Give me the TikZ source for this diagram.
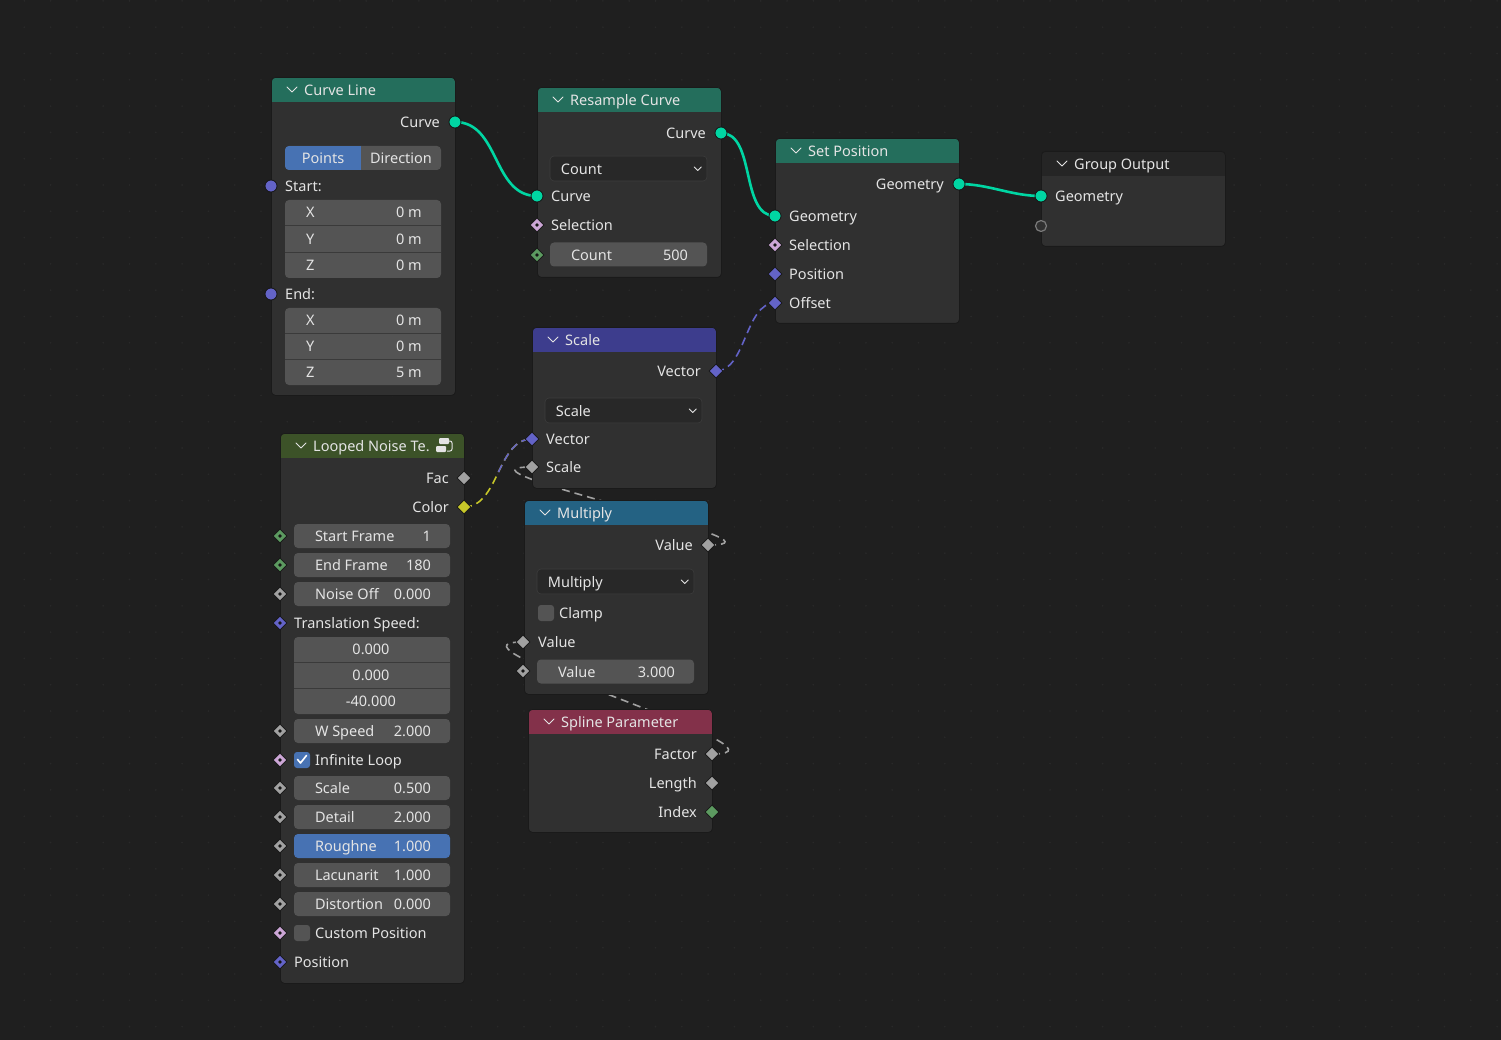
\documentclass[tikz,border=0pt]{standalone}
\usepackage{fontspec}
\setmainfont{Noto Sans}
\usetikzlibrary{positioning,shapes.geometric,calc}

\definecolor{bgc}{HTML}{1F1F1F}
\definecolor{dotc}{HTML}{292929}
\definecolor{bodyc}{HTML}{303030}
\definecolor{edgec}{HTML}{1A1A1A}
\definecolor{fieldc}{HTML}{545454}
\definecolor{dropc}{HTML}{282828}
\definecolor{dropedge}{HTML}{3C3C3C}
\definecolor{sepc}{HTML}{3A3A3A}
\definecolor{txt}{HTML}{E4E4E4}
\definecolor{selc}{HTML}{4772B3}
\definecolor{sockedge}{HTML}{151515}
\definecolor{geo}{HTML}{00D6A3}
\definecolor{vecc}{HTML}{6363C7}
\definecolor{boolc}{HTML}{CCA6D6}
\definecolor{intc}{HTML}{5C9A60}
\definecolor{floatc}{HTML}{A1A1A1}
\definecolor{colc}{HTML}{C7C729}
\definecolor{emptyc}{HTML}{7A7A7A}
\definecolor{hdrgeo}{HTML}{246E5C}
\definecolor{hdrvec}{HTML}{3D3D8D}
\definecolor{hdrgrp}{HTML}{3C5228}
\definecolor{hdrmath}{HTML}{246283}
\definecolor{hdrin}{HTML}{83314A}
\definecolor{hdrout}{HTML}{252525}

\pgfdeclarelayer{bg}
\pgfsetlayers{bg,main}

\tikzset{
  frame/.style={draw=edgec, line width=0.8pt, fill=bodyc, rounded corners=4pt,
    anchor=north west, inner sep=0pt},
  title/.style={anchor=west, inner sep=0pt, text=txt,
    font=\fontsize{14.5}{17}\selectfont, text height=11.5pt, text depth=0pt},
  lbl/.style={title},
  chev/.style={draw=txt, line width=1pt, line cap=round, line join=round},
  field/.style={fill=fieldc, rounded corners=4pt, minimum height=24pt, inner sep=0pt},
  drop/.style={fill=dropc, draw=dropedge, line width=0.6pt, rounded corners=4pt,
    minimum height=25pt, minimum width=157pt, inner sep=0pt},
  sep/.style={draw=sepc, line width=1.2pt},
  sock/.style={circle, fill=#1, draw=sockedge, line width=0.8pt, minimum size=12pt, inner sep=0pt},
  dsock/.style={diamond, fill=#1, draw=sockedge, line width=0.8pt, minimum size=14pt, inner sep=0pt},
  ddsock/.style={dsock=#1, path picture={\fill[sockedge] (path picture bounding box.center) circle (1.8pt);}},
  box/.style={fill=fieldc, rounded corners=3pt, minimum size=16pt, inner sep=0pt},
  geolink/.style={draw=geo, line width=2.6pt},
  flink/.style={draw=#1, line width=1.6pt, dash pattern=on 8pt off 5pt},
}

% node frame: name, x, y, width, height, header colour, title
\newcommand{\bnode}[7]{%
  \node[frame, minimum width=#4pt, minimum height=#5pt,
    path picture={\fill[#6, sharp corners] (path picture bounding box.north west)
      rectangle ([yshift=-25pt]path picture bounding box.north east);}] (#1) at (#2,#3) {};
  \draw[chev] ([xshift=16pt,yshift=-10pt]#1.north west) -- ++(5pt,-5pt) -- ++(5pt,5pt);
  \node[title] (#1-t) at ([xshift=33pt,yshift=-12.5pt]#1.north west) {#7};
}
% value field: name, x centre, y, width, colour, label, value
\newcommand{\bfield}[7]{%
  \node[field, fill=#5, minimum width=#4pt] (#1) at (#2,#3) {};
  \node[lbl] (#1-l) at ([xshift=21pt]#1.west) {#6};
  \node[lbl, anchor=east] (#1-v) at ([xshift=-19pt]#1.east) {#7};
}
% drop-down menu: name, x centre, y, text
\newcommand{\bdrop}[4]{%
  \node[drop] (#1) at (#2,#3) {};
  \node[lbl] (#1-l) at ([xshift=11pt]#1.west) {#4};
  \draw[chev, line width=0.9pt] ([xshift=-13pt,yshift=1.5pt]#1.east) -- ++(3.5pt,-3.5pt) -- ++(3.5pt,3.5pt);
}

\begin{document}
\begin{tikzpicture}[x=1pt,y=-1pt]
\useasboundingbox (0,0) rectangle (1501,1040);

% Curve Line
\bnode{cl}{271}{77}{184}{318}{hdrgeo}{Curve Line}
\node[lbl, anchor=east] (cl-ol) at (440,122) {Curve};
\node[sock=geo] (cl-o) at (455,122) {};
\node[field, minimum width=156pt,
  path picture={\fill[selc, sharp corners] (path picture bounding box.north west)
    rectangle ([xshift=76pt]path picture bounding box.south west);}] (cl-mode) at (363,158) {};
\node[lbl, anchor=center] (cl-pts) at (323,158) {Points};
\node[lbl, anchor=center] (cl-dir) at (401,158) {Direction};
\node[lbl] (cl-sl) at (285,186) {Start:};
\node[sock=vecc] (cl-s) at (271,186) {};
\node[field, minimum width=156pt, minimum height=78pt] (cl-sv) at (363,239) {};
\draw[sep] (285,225.5) -- (441,225.5);
\draw[sep] (285,252.5) -- (441,252.5);
\foreach \c/\yy/\v in {X/212/0 m, Y/239/0 m, Z/265/0 m} {
  \node[lbl] (cl-s\c) at (306,\yy) {\c};
  \node[lbl, anchor=east] (cl-s\c-v) at (422,\yy) {\v};
}
\node[lbl] (cl-el) at (285,294) {End:};
\node[sock=vecc] (cl-e) at (271,294) {};
\node[field, minimum width=156pt, minimum height=77pt] (cl-ev) at (363,346.5) {};
\draw[sep] (285,333.5) -- (441,333.5);
\draw[sep] (285,359.5) -- (441,359.5);
\foreach \c/\yy/\v in {X/320/0 m, Y/346/0 m, Z/372/5 m} {
  \node[lbl] (cl-e\c) at (306,\yy) {\c};
  \node[lbl, anchor=east] (cl-e\c-v) at (422,\yy) {\v};
}

% Resample Curve
\bnode{rs}{537}{87}{184}{190}{hdrgeo}{Resample Curve}
\node[lbl, anchor=east] (rs-ol) at (706,133) {Curve};
\node[sock=geo] (rs-o) at (721,133) {};
\bdrop{rs-mode}{628.5}{168.5}{Count}
\node[lbl] (rs-cil) at (551,196) {Curve};
\node[sock=geo] (rs-ci) at (537,196) {};
\node[lbl] (rs-sel) at (551,225) {Selection};
\node[ddsock=boolc] (rs-s) at (537,225) {};
\bfield{rs-cnt}{628.5}{254.5}{157}{fieldc}{Count}{500}
\node[ddsock=intc] (rs-n) at (537,255) {};

% Set Position
\bnode{sp}{775}{138}{184}{185}{hdrgeo}{Set Position}
\node[lbl, anchor=east] (sp-ol) at (944,184) {Geometry};
\node[sock=geo] (sp-o) at (959,184) {};
\node[lbl] (sp-gl) at (789,216) {Geometry};
\node[sock=geo] (sp-g) at (775,216) {};
\node[lbl] (sp-sl) at (789,245) {Selection};
\node[ddsock=boolc] (sp-s) at (775,245) {};
\node[lbl] (sp-pl) at (789,274) {Position};
\node[dsock=vecc] (sp-p) at (775,274) {};
\node[lbl] (sp-fl) at (789,303) {Offset};
\node[dsock=vecc] (sp-f) at (775,303) {};

% Group Output
\bnode{go}{1041}{151}{184}{95}{hdrout}{Group Output}
\node[lbl] (go-gl) at (1055,196) {Geometry};
\node[sock=geo] (go-g) at (1041,196) {};
\node[sock=bodyc, draw=emptyc, line width=1.2pt, minimum size=11pt] (go-e) at (1041,226) {};

% Scale
\bnode{sc}{532}{327}{184}{161}{hdrvec}{Scale}
\node[lbl, anchor=east] (sc-ol) at (701,371) {Vector};
\node[dsock=vecc] (sc-o) at (716,371) {};
\bdrop{sc-mode}{623.5}{410.5}{Scale}
\node[lbl] (sc-vl) at (546,439) {Vector};
\node[dsock=vecc] (sc-v) at (532,439) {};
\node[lbl] (sc-sl) at (546,467) {Scale};
\node[dsock=floatc] (sc-s) at (532,467) {};

% Looped Noise Texture (group)
\bnode{ln}{280}{433}{184}{550}{hdrgrp}{Looped Noise Te.}
\fill[txt, rounded corners=1pt] (439,438) rectangle (449,444);
\fill[txt, rounded corners=1pt] (436,446) rectangle (446,452);
\draw[txt, line width=1pt, rounded corners=2pt] (449,441) -- (452,441) -- (452,451) -- (447,451);
\node[lbl, anchor=east] (ln-fl) at (449,478) {Fac};
\node[dsock=floatc] (ln-f) at (464,478) {};
\node[lbl, anchor=east] (ln-cl) at (449,507) {Color};
\node[dsock=colc] (ln-c) at (464,507) {};
\foreach \n/\yy/\l/\v/\c/\s in {sf/536/Start Frame/1/fieldc/intc, ef/565/End Frame/180/fieldc/intc,
    no/594/Noise Off/0.000/fieldc/floatc, ws/731/W Speed/2.000/fieldc/floatc,
    sca/788/Scale/0.500/fieldc/floatc, det/817/Detail/2.000/fieldc/floatc,
    rou/846/Roughne/1.000/selc/floatc, lac/875/Lacunarit/1.000/fieldc/floatc,
    dis/904/Distortion/0.000/fieldc/floatc} {
  \bfield{ln-\n}{372}{\yy}{156}{\c}{\l}{\v}
  \node[ddsock=\s] (ln-\n-s) at (280,\yy) {};
}
\node[lbl] (ln-tl) at (294,623) {Translation Speed:};
\node[ddsock=vecc] (ln-t) at (280,623) {};
\node[field, minimum width=156pt, minimum height=77pt] (ln-tv) at (372,675.5) {};
\draw[sep] (294,662.5) -- (450,662.5);
\draw[sep] (294,688.5) -- (450,688.5);
\node[lbl, anchor=center] (ln-tx) at (371,649) {0.000};
\node[lbl, anchor=center] (ln-ty) at (371,675) {0.000};
\node[lbl, anchor=center] (ln-tz) at (371,701) {-40.000};
\node[box, fill=selc] (ln-il) at (302,760) {};
\draw[white, line width=1.6pt, line cap=round, line join=round]
  ([xshift=-4.5pt,yshift=0.5pt]ln-il.center) -- ++(3pt,-3.5pt) -- ++(6pt,7.5pt);
\node[lbl] (ln-ill) at (315,760) {Infinite Loop};
\node[ddsock=boolc] (ln-ils) at (280,760) {};
\node[box] (ln-cp) at (302,933) {};
\node[lbl] (ln-cpl) at (315,933) {Custom Position};
\node[ddsock=boolc] (ln-cps) at (280,933) {};
\node[lbl] (ln-pl) at (294,962) {Position};
\node[ddsock=vecc] (ln-p) at (280,962) {};

% Multiply
\bnode{mu}{524}{500}{184}{194}{hdrmath}{Multiply}
\node[lbl, anchor=east] (mu-ol) at (693,545) {Value};
\node[dsock=floatc] (mu-o) at (708,545) {};
\bdrop{mu-mode}{615.5}{581.5}{Multiply}
\node[box] (mu-cb) at (546,613) {};
\node[lbl] (mu-cl) at (559,613) {Clamp};
\node[lbl] (mu-al) at (538,642) {Value};
\node[dsock=floatc] (mu-a) at (523,642) {};
\bfield{mu-b}{615.5}{671.5}{157}{fieldc}{Value}{3.000}
\node[ddsock=floatc] (mu-bs) at (523,671) {};

% Spline Parameter
\bnode{spl}{528}{709}{184}{123}{hdrin}{Spline Parameter}
\node[lbl, anchor=east] (spl-fl) at (697,754) {Factor};
\node[dsock=floatc] (spl-f) at (712,754) {};
\node[lbl, anchor=east] (spl-ll) at (697,783) {Length};
\node[dsock=floatc] (spl-l) at (712,783) {};
\node[lbl, anchor=east] (spl-il) at (697,812) {Index};
\node[dsock=intc] (spl-i) at (712,812) {};

% links, behind the nodes
\begin{pgfonlayer}{bg}
\fill[bgc] (0,0) rectangle (1501,1040);
\foreach \i in {0,...,56} \foreach \j in {0,...,39}
  \fill[dotc] ({24.3+26.3*\i},{0.9+26.3*\j}) circle (0.9pt);
\draw[geolink] (cl-o.center) .. controls +(45,0) and +(-45,0) .. (rs-ci.center);
\draw[geolink] (rs-o.center) .. controls +(35,0) and +(-35,0) .. (sp-g.center);
\draw[geolink] (sp-o.center) .. controls +(30,0) and +(-30,0) .. (go-g.center);
\draw[flink=vecc] (sc-o.center) .. controls +(30,0) and +(-30,0) .. (sp-f.center);
\draw[flink=colc] (ln-c.center) .. controls +(35,0) and +(-35,0) .. (sc-v.center);
\begin{scope}
  \clip (400,400) rectangle (600,473);
  \draw[flink=vecc] (ln-c.center) .. controls +(35,0) and +(-35,0) .. (sc-v.center);
\end{scope}
\draw[flink=floatc] (mu-o.center) .. controls +(100,0) and +(-100,0) .. (sc-s.center);
\draw[flink=floatc] (spl-f.center) .. controls +(100,0) and +(-100,0) .. (mu-a.center);
\end{pgfonlayer}
\end{tikzpicture}
\end{document}
